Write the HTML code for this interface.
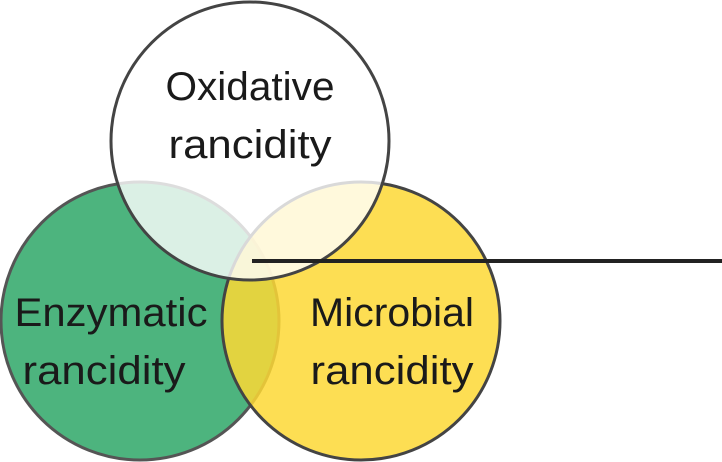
<!DOCTYPE html>
<html><head><style>html,body{margin:0;padding:0;background:#fff;width:722px;height:462px;overflow:hidden}</style></head>
<body>
<svg width="722" height="462" viewBox="0 0 722 462" xmlns="http://www.w3.org/2000/svg">
<circle cx="140" cy="321" r="139" fill="#4db47e" stroke="#555" stroke-width="3"/>
<circle cx="361" cy="321" r="139" fill="#fdd835" fill-opacity="0.85" stroke="#444" stroke-width="3"/>
<circle cx="250" cy="141" r="139" fill="#fff" fill-opacity="0.8" stroke="#444" stroke-width="3"/>
<line x1="252" y1="261" x2="722" y2="261" stroke="#222" stroke-width="4"/>
<g font-family="Liberation Sans, sans-serif" font-size="40" fill="#1a1a1a" text-anchor="middle" font-weight="300">
<text x="250" y="100" textLength="169" lengthAdjust="spacingAndGlyphs">Oxidative</text>
<text x="250" y="158" textLength="163" lengthAdjust="spacingAndGlyphs">rancidity</text>
<text x="111" y="326" textLength="193" lengthAdjust="spacingAndGlyphs">Enzymatic</text>
<text x="104" y="384" textLength="163" lengthAdjust="spacingAndGlyphs">rancidity</text>
<text x="392" y="326" textLength="164" lengthAdjust="spacingAndGlyphs">Microbial</text>
<text x="392" y="384" textLength="163" lengthAdjust="spacingAndGlyphs">rancidity</text>
</g>
</svg>
</body></html>
